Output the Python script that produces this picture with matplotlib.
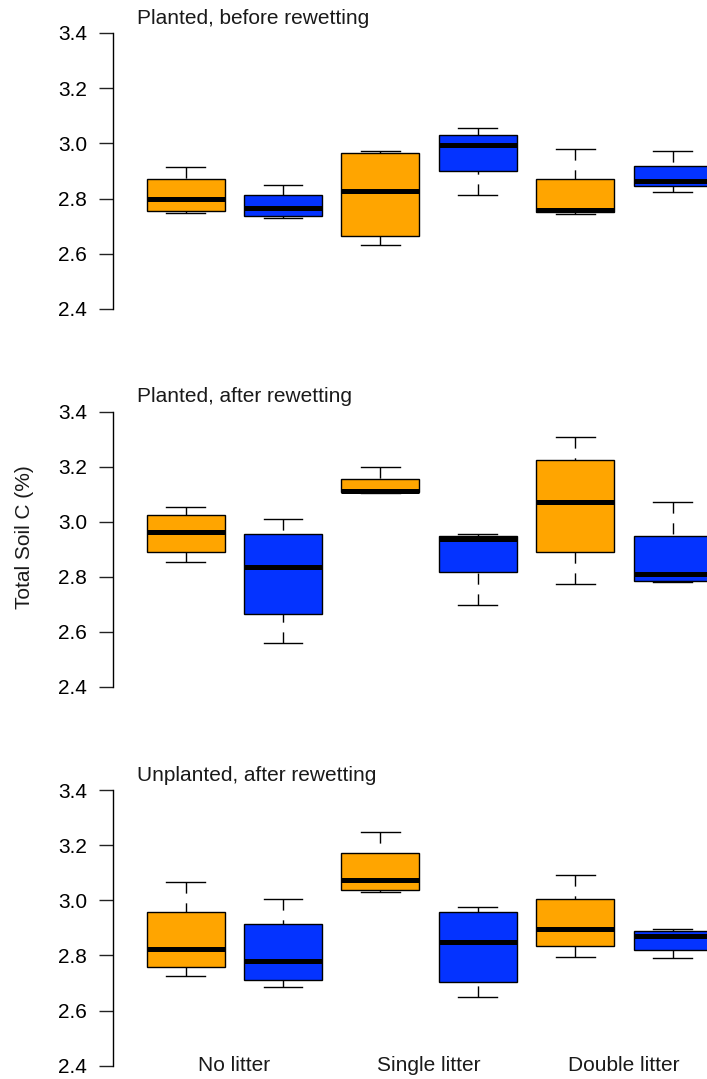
import matplotlib.pyplot as plt
import numpy as np

plt.rcParams['font.family'] = ['Liberation Sans', 'DejaVu Sans']

# Box summaries per panel: (lower whisker, Q1, median, Q3, upper whisker)
# order within each panel: No litter (orange, blue), Single litter (orange, blue), Double litter (orange, blue)
planted_before = [
    (2.749, 2.756, 2.797, 2.871, 2.913),
    (2.730, 2.737, 2.765, 2.814, 2.850),
    (2.632, 2.663, 2.828, 2.965, 2.971),
    (2.813, 2.901, 2.995, 3.029, 3.057),
    (2.745, 2.752, 2.760, 2.871, 2.979),
    (2.825, 2.844, 2.864, 2.919, 2.974),
]
planted_after = [
    (2.853, 2.889, 2.961, 3.025, 3.053),
    (2.560, 2.663, 2.835, 2.954, 3.010),
    (3.105, 3.107, 3.113, 3.155, 3.199),
    (2.696, 2.816, 2.937, 2.947, 2.955),
    (2.774, 2.889, 3.072, 3.224, 3.308),
    (2.780, 2.786, 2.809, 2.949, 3.071),
]
unplanted_after = [
    (2.724, 2.759, 2.823, 2.956, 3.066),
    (2.684, 2.711, 2.780, 2.914, 3.005),
    (3.029, 3.036, 3.072, 3.171, 3.249),
    (2.648, 2.704, 2.850, 2.956, 2.974),
    (2.793, 2.833, 2.895, 3.005, 3.092),
    (2.789, 2.820, 2.869, 2.890, 2.895),
]

panel_titles = ["Planted, before rewetting", "Planted, after rewetting",
                "Unplanted, after rewetting"]
groups = ["No litter", "Single litter", "Double litter"]
box_colors = ["#FFA500", "#0433FF"] * 3
yticks = [2.4, 2.6, 2.8, 3.0, 3.2, 3.4]

W, H = 707, 1079
fig = plt.figure(figsize=(W / 100, H / 100), dpi=100)

# panel frames in pixels (top of y range, bottom of y range)
x_left, x_right = 113.4, 745.0
panel_px = [(21.96, 320.04), (400.7, 697.7), (779.0, 1076.7)]

def make_stats(rows):
    out = []
    for lo, q1, med, q3, hi in rows:
        out.append(dict(whislo=lo, q1=q1, med=med, q3=q3, whishi=hi, fliers=[]))
    return out

datasets = [planted_before, planted_after, unplanted_after]
pos = np.arange(1, 7)

for i, (rows, title) in enumerate(zip(datasets, panel_titles)):
    top, bot = panel_px[i]
    ax = fig.add_axes([x_left / W, 1 - bot / H, (x_right - x_left) / W, (bot - top) / H])
    bp = ax.bxp(make_stats(rows), positions=pos, widths=0.8, patch_artist=True,
                showfliers=False,
                boxprops=dict(edgecolor='black', linewidth=1.0),
                medianprops=dict(color='black', linewidth=3.6, solid_capstyle='butt'),
                whiskerprops=dict(color='black', linewidth=1.0, linestyle=(0, (8, 7))),
                capprops=dict(color='black', linewidth=1.0), capwidths=0.4)
    for patch, c in zip(bp['boxes'], box_colors):
        patch.set_facecolor(c)
    # dashes start at the cap end, as R draws them
    for wl in bp['whiskers']:
        wl.set_ydata(wl.get_ydata()[::-1])
        wl.set_xdata(wl.get_xdata()[::-1])

    ax.set_xlim(0.26, 6.74)
    ax.set_ylim(2.36, 3.44)
    for s in ['top', 'right', 'bottom']:
        ax.spines[s].set_visible(False)
    ax.spines['left'].set_bounds(2.4, 3.4)
    ax.spines['left'].set_linewidth(1.0)
    ax.set_xticks([])
    ax.set_yticks(yticks)
    ax.set_yticklabels([f"{v:.1f}" for v in yticks])
    ax.tick_params(axis='y', length=10, width=1.0, pad=9, labelsize=15, color='#222222')
    ax.set_facecolor('none')

    ax.text(0.5, 3.4 + 15 / 276, title, fontsize=15, ha='left', va='center',
            color='#1a1a1a', clip_on=False)

    if i == 2:
        for k, g in enumerate(groups):
            ax.text(1.5 + 2 * k, 2.4, g, fontsize=15, ha='center', va='center',
                    color='#1a1a1a', clip_on=False)

fig.text(25 / W, 1 - 537 / H, "Total Soil C (%)", rotation=90, fontsize=15,
         ha='center', va='center', color='#1a1a1a')

fig.savefig("out.png", dpi=100)
